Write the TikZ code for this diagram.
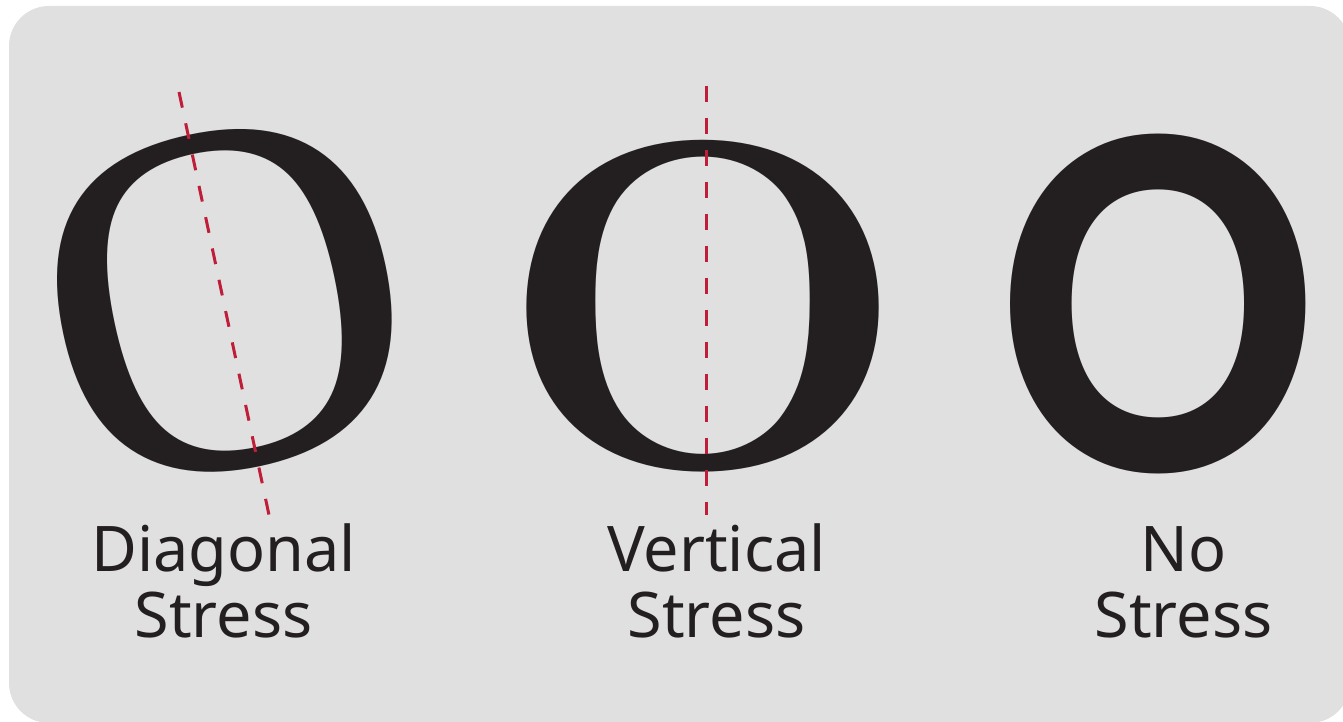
\documentclass[tikz,border=0pt]{standalone}
\usepackage{fontspec}
\usepackage{graphicx}
\newfontfamily\labelfont{Noto Sans}
\newfontfamily\oldfont{Liberation Serif}
\newfontfamily\modfont{Latin Modern Roman}
\newfontfamily\grotfont{Carlito}
\definecolor{panelgray}{RGB}{224,224,224}
\definecolor{inkblack}{RGB}{35,31,32}
\definecolor{axisred}{RGB}{190,30,55}

\begin{document}
\begin{tikzpicture}[x=0.1mm, y=-0.1mm,
    stressline/.style={axisred, line width=0.3mm, dash pattern=on 1.6mm off 1.6mm},
    caption/.style={align=center, inner sep=0, text=inkblack, font=\labelfont\fontsize{17.9}{18.8}\selectfont},
    letter/.style={anchor=center, inner sep=0, text=inkblack}]

        \useasboundingbox (0,0) rectangle (1343,722);

        % Panel
        \fill[panelgray, rounded corners=4mm] (9,6) rectangle (1350,723);

        % The three letters
        \node[letter, rotate=12] (oold) at (225.5,301) {\scalebox{1.01}[0.99]{\fontsize{145}{145}\selectfont\oldfont O}};
        \node[letter] (omod) at (703,306.5) {\scalebox{1.047}[1]{\fontsize{133}{133}\selectfont\modfont\bfseries O}};
        \node[letter] (osans) at (1158,304) {\scalebox{0.914}[1]{\fontsize{146}{146}\selectfont\grotfont\bfseries O}};

        % Stress axes
        \coordinate (diagtop) at (179,92);
        \coordinate (diagbot) at (269,515);
        \coordinate (verttop) at (706,86);
        \coordinate (vertbot) at (706,515);
        \draw[stressline] (diagtop) -- (diagbot);
        \draw[stressline] (verttop) -- (vertbot);

        % Captions
        \node[caption, anchor=base] (diaglabel) at (223.5,638) {Diagonal\\Stress};
        \node[caption, anchor=base] (vertlabel) at (716.5,638) {Vertical\\Stress};
        \node[caption, anchor=base] (nolabel) at (1183.5,638) {No\\Stress};

    \end{tikzpicture}
\end{document}
